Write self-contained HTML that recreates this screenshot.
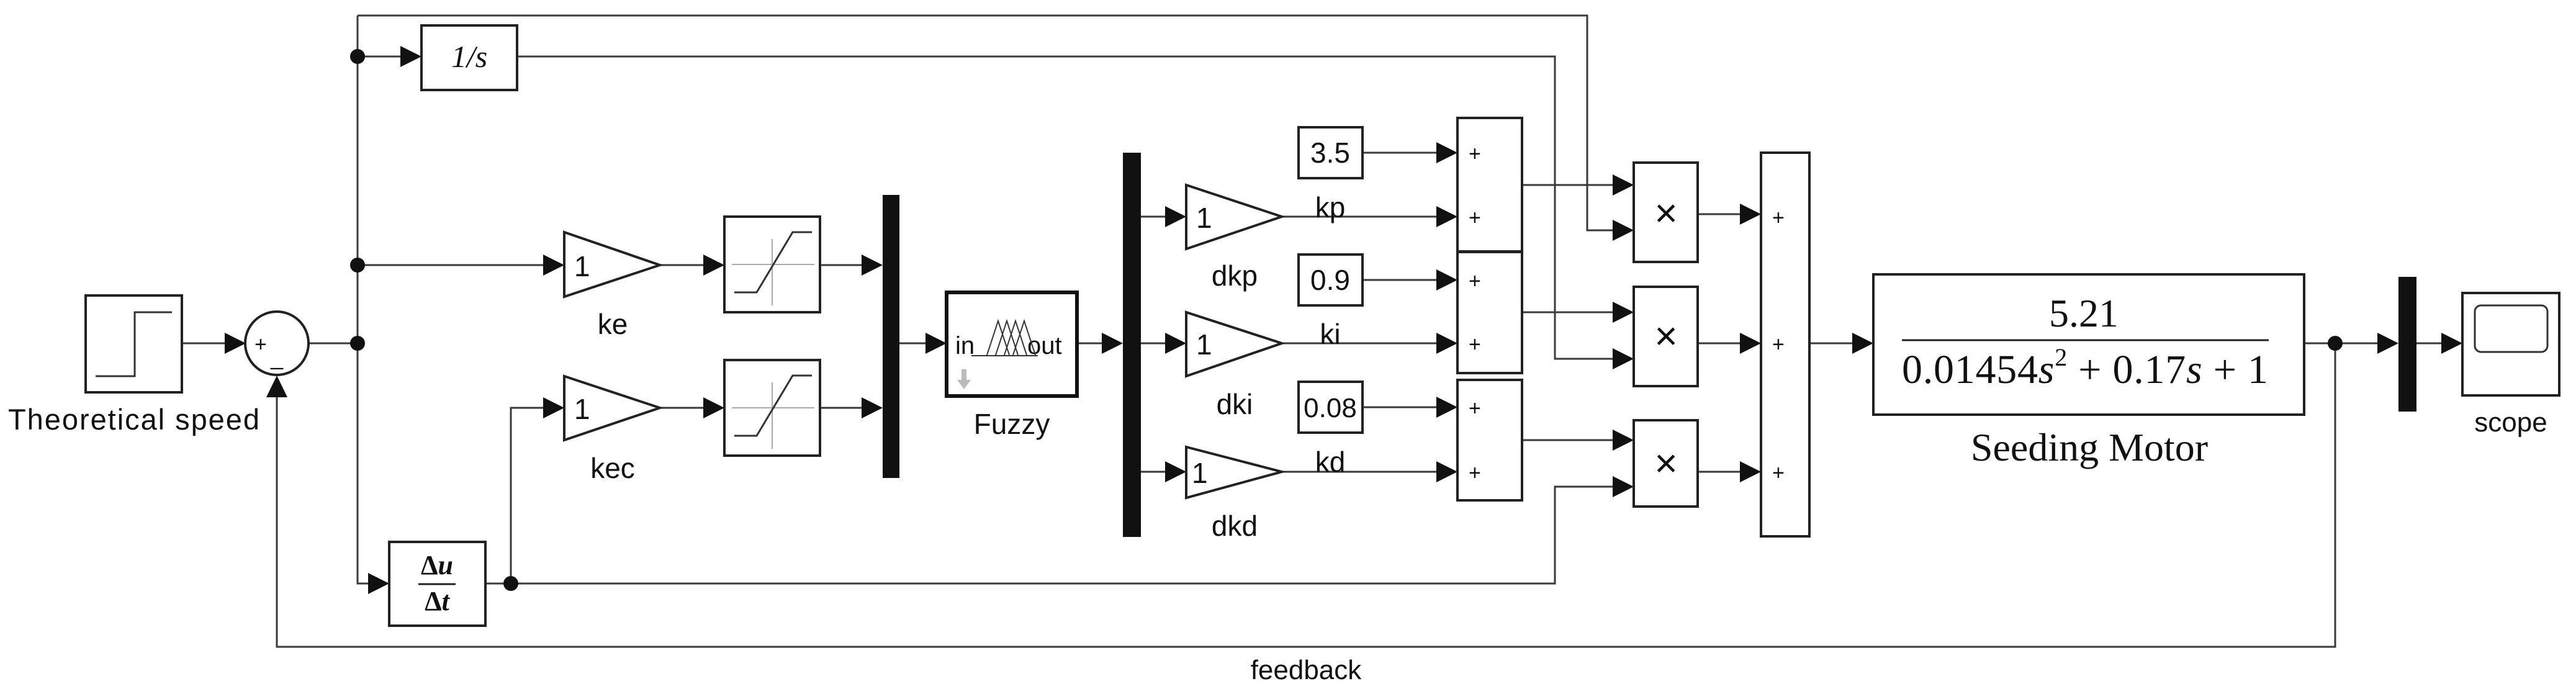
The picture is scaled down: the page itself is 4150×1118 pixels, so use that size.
<!DOCTYPE html>
<html><head><meta charset="utf-8"><style>
html,body{margin:0;padding:0;background:#fff;}
svg{display:block;}
.w{stroke:#3a3a3a;stroke-width:3;fill:none;}
.b{stroke:#222;stroke-width:4;fill:#fff;}
.a{fill:#111;}
.s{font-family:"Liberation Sans",sans-serif;fill:#111;}
.t{font-family:"Liberation Serif",serif;fill:#111;}
</style></head><body>
<svg width="4150" height="1118" viewBox="0 0 4150 1118" xmlns="http://www.w3.org/2000/svg">
<g class="w">
<path d="M293 553H380"/>
<path d="M497 553H576"/>
<path d="M576 25V940H610"/>
<path d="M576 25H2557V371H2615"/>
<path d="M576 91H662"/>
<path d="M833 91H2505V578H2615"/>
<path d="M576 427H892"/>
<path d="M1063 427H1150"/>
<path d="M1321 427H1405"/>
<path d="M782 940H2505V784H2615"/>
<path d="M823 940V657H892"/>
<path d="M1063 657H1150"/>
<path d="M1321 657H1405"/>
<path d="M1449 553H1508"/>
<path d="M1735 553H1792"/>
<path d="M1838 349H1894M1838 553H1894M1838 760H1894"/>
<path d="M2065 349H2331M2065 553H2331M2065 760H2331"/>
<path d="M2195 246H2331M2195 451H2331M2195 656H2331"/>
<path d="M2452 298H2615M2452 503H2615M2452 709H2615"/>
<path d="M2735 345H2820M2735 553H2820M2735 760H2820"/>
<path d="M2915 553H3001"/>
<path d="M3712 553H3847"/>
<path d="M3893 553H3950"/>
<path d="M3762 553V1042H446V622"/>
</g>
<g class="a">
<polygon points="362,536 396,553 362,570"/>
<polygon points="593,923 627,940 593,957"/>
<polygon points="2598,354 2632,371 2598,388"/>
<polygon points="645,74 679,91 645,108"/>
<polygon points="2598,561 2632,578 2598,595"/>
<polygon points="875,410 909,427 875,444"/>
<polygon points="1133,410 1167,427 1133,444"/>
<polygon points="1388,410 1422,427 1388,444"/>
<polygon points="2598,767 2632,784 2598,801"/>
<polygon points="875,640 909,657 875,674"/>
<polygon points="1133,640 1167,657 1133,674"/>
<polygon points="1388,640 1422,657 1388,674"/>
<polygon points="1491,536 1525,553 1491,570"/>
<polygon points="1775,536 1809,553 1775,570"/>
<polygon points="1877,332 1911,349 1877,366"/>
<polygon points="1877,536 1911,553 1877,570"/>
<polygon points="1877,743 1911,760 1877,777"/>
<polygon points="2314,332 2348,349 2314,366"/>
<polygon points="2314,536 2348,553 2314,570"/>
<polygon points="2314,743 2348,760 2314,777"/>
<polygon points="2314,229 2348,246 2314,263"/>
<polygon points="2314,434 2348,451 2314,468"/>
<polygon points="2314,639 2348,656 2314,673"/>
<polygon points="2598,281 2632,298 2598,315"/>
<polygon points="2598,486 2632,503 2598,520"/>
<polygon points="2598,692 2632,709 2598,726"/>
<polygon points="2803,328 2837,345 2803,362"/>
<polygon points="2803,536 2837,553 2803,570"/>
<polygon points="2803,743 2837,760 2803,777"/>
<polygon points="2984,536 3018,553 2984,570"/>
<polygon points="3830,536 3864,553 3830,570"/>
<polygon points="3933,536 3967,553 3933,570"/>
<polygon points="429,640 446,605 463,640"/>
<circle cx="576" cy="91" r="12"/>
<circle cx="576" cy="427" r="12"/>
<circle cx="576" cy="553" r="12"/>
<circle cx="823" cy="940" r="12"/>
<circle cx="3762" cy="553" r="12"/>
</g>
<rect class="b" x="138" y="476" width="155" height="156"/>
<path d="M154 606H217V503H277" stroke="#333" stroke-width="3" fill="none"/>
<text class="s" x="13" y="692" font-size="47" textLength="405">Theoretical speed</text>
<circle cx="446" cy="553" r="51" class="b"/>
<text class="s" x="410" y="566" font-size="34">+</text>
<text class="s" x="436" y="588" font-size="36">_</text>
<rect class="b" x="679" y="41" width="154" height="104"/>
<text class="t" x="756" y="108" font-size="50" text-anchor="middle" font-style="italic">1/s</text>
<polygon class="b" points="909,374 1063,427 909,478"/>
<text class="s" x="925" y="445" font-size="46">1</text>
<text class="s" x="987" y="538" font-size="46" text-anchor="middle">ke</text>
<polygon class="b" points="909,606 1063,657 909,709"/>
<text class="s" x="925" y="675" font-size="46">1</text>
<text class="s" x="987" y="770" font-size="46" text-anchor="middle">kec</text>
<rect class="b" x="1167" y="349" width="154" height="154"/>
<path d="M1179 426H1312M1244 385V492" stroke="#aaa" stroke-width="2"/>
<path d="M1183 471H1219L1277 374H1308" stroke="#333" stroke-width="3" fill="none"/>
<rect class="b" x="1167" y="580" width="154" height="154"/>
<path d="M1179 657H1312M1244 616V723" stroke="#aaa" stroke-width="2"/>
<path d="M1183 702H1219L1277 605H1308" stroke="#333" stroke-width="3" fill="none"/>
<rect class="b" x="627" y="873" width="155" height="135"/>
<text class="t" x="704" y="925" font-size="44" font-weight="bold" text-anchor="middle">Δ<tspan font-style="italic">u</tspan></text>
<line x1="674" y1="941" x2="734" y2="941" stroke="#222" stroke-width="3"/>
<text class="t" x="704" y="983" font-size="44" font-weight="bold" text-anchor="middle">Δ<tspan font-style="italic">t</tspan></text>
<rect x="1422" y="314" width="27" height="456" fill="#111"/>
<rect x="1525" y="471" width="210" height="167" fill="#fff" stroke="#111" stroke-width="6"/>
<text class="s" x="1539" y="570" font-size="40">in</text>
<text class="s" x="1655" y="570" font-size="40">out</text>
<path d="M1590 572L1608 517L1626 572M1604 572L1622 517L1640 572M1618 572L1636 517L1654 572M1632 572L1650 517L1668 572" stroke="#333" stroke-width="2" fill="none"/>
<line x1="1565" y1="573" x2="1672" y2="573" stroke="#333" stroke-width="2"/>
<path d="M1549 595H1557V612H1564L1553 627L1542 612H1549Z" fill="#bbb"/>
<text class="s" x="1630" y="699" font-size="46" text-anchor="middle">Fuzzy</text>
<rect x="1809" y="246" width="29" height="619" fill="#111"/>
<polygon class="b" points="1911,298 2065,349 1911,401"/>
<text class="s" x="1927" y="367" font-size="46">1</text>
<text class="s" x="1989" y="460" font-size="46" text-anchor="middle">dkp</text>
<text class="s" x="2143" y="350" font-size="46" text-anchor="middle">kp</text>
<polygon class="b" points="1911,503 2065,553 1911,606"/>
<text class="s" x="1927" y="571" font-size="46">1</text>
<text class="s" x="1989" y="667" font-size="46" text-anchor="middle">dki</text>
<text class="s" x="2143" y="554" font-size="46" text-anchor="middle">ki</text>
<polygon class="b" points="1911,720 2065,760 1911,802"/>
<text class="s" x="1920" y="778" font-size="46">1</text>
<text class="s" x="1989" y="863" font-size="46" text-anchor="middle">dkd</text>
<text class="s" x="2143" y="760" font-size="46" text-anchor="middle">kd</text>
<rect class="b" x="2092" y="205" width="103" height="82"/>
<text class="s" x="2143" y="262" font-size="46" text-anchor="middle">3.5</text>
<rect class="b" x="2092" y="410" width="103" height="82"/>
<text class="s" x="2143" y="467" font-size="46" text-anchor="middle">0.9</text>
<rect class="b" x="2092" y="615" width="103" height="82"/>
<text class="s" x="2143" y="672" font-size="44" text-anchor="middle">0.08</text>
<rect class="b" x="2348" y="190" width="104" height="215"/>
<rect class="b" x="2348" y="406" width="104" height="195"/>
<rect class="b" x="2348" y="612" width="104" height="194"/>
<g class="s" font-size="34">
<text x="2366" y="259">+</text><text x="2366" y="362">+</text>
<text x="2366" y="464">+</text><text x="2366" y="566">+</text>
<text x="2366" y="669">+</text><text x="2366" y="773">+</text>
</g>
<rect class="b" x="2632" y="262" width="103" height="160"/>
<rect class="b" x="2632" y="462" width="103" height="160"/>
<rect class="b" x="2632" y="677" width="103" height="139"/>
<g class="s" font-size="64" text-anchor="middle" fill="#444">
<text x="2684" y="365">×</text><text x="2684" y="563">×</text><text x="2684" y="768">×</text>
</g>
<rect class="b" x="2837" y="246" width="78" height="618"/>
<g class="s" font-size="34">
<text x="2855" y="362">+</text><text x="2855" y="566">+</text><text x="2855" y="773">+</text>
</g>
<rect class="b" x="3018" y="442" width="694" height="226"/>
<text class="t" x="3357" y="526" font-size="64" text-anchor="middle">5.21</text>
<line x1="3064" y1="548" x2="3655" y2="548" stroke="#222" stroke-width="3"/>
<text class="t" x="3064" y="617" font-size="66" textLength="590">0.01454<tspan font-style="italic">s</tspan><tspan font-size="40" dy="-28">2</tspan><tspan dy="28"> + 0.17</tspan><tspan font-style="italic">s</tspan> + 1</text>
<text class="t" x="3366" y="742" font-size="64" text-anchor="middle">Seeding Motor</text>
<rect x="3864" y="446" width="29" height="217" fill="#111"/>
<rect class="b" x="3967" y="472" width="156" height="165"/>
<rect x="3987" y="492" width="117" height="75" rx="10" fill="#fff" stroke="#333" stroke-width="3"/>
<text class="s" x="4045" y="695" font-size="44" text-anchor="middle">scope</text>
<text class="s" x="2104" y="1094" font-size="44" text-anchor="middle">feedback</text>
</svg>
</body></html>
